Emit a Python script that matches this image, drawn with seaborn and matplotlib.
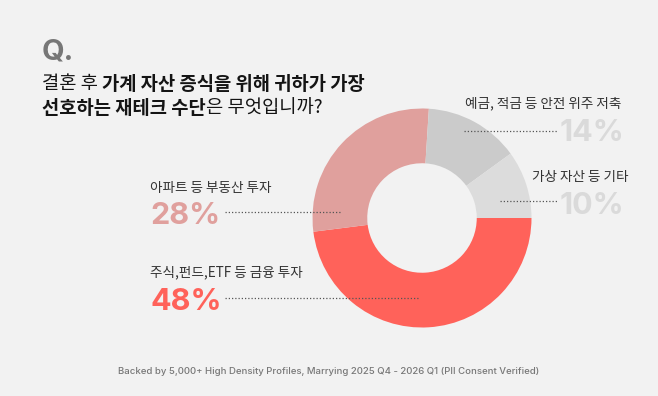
import matplotlib
matplotlib.use("Agg")
import matplotlib.pyplot as plt
import seaborn as sns

# survey shares, drawn clockwise from 3 o'clock
categories = ["주식,펀드,ETF 등 금융 투자", "아파트 등 부동산 투자", "예금, 적금 등 안전 위주 저축", "가상 자산 등 기타"]
shares = [48, 28, 14, 10]
slice_colors = ["#FF625A", "#E0A09D", "#CBCBCB", "#DCDCDC"]
pct_colors = ["#FF625A", "#E0A09D", "#DADADA", "#DADADA"]

title_parts_1 = [("결혼 후 ", "normal"), ("가계 자산 증식을 위해 귀하가 가장", "bold")]
title_parts_2 = [("선호하는 재테크 수단", "bold"), ("은 무엇입니까?", "normal")]
footer = "Backed by 5,000+ High Density Profiles, Marrying 2025 Q4 - 2026 Q1 (PII Consent Verified)"

W, H = 658, 396
BG = "#F2F2F2"
KR = ["Noto Sans CJK KR", "DejaVu Sans"]
NUM = ["Inter", "Noto Sans CJK KR", "DejaVu Sans"]

sns.set_theme(style="white")
plt.rcParams["font.family"] = KR

fig = plt.figure(figsize=(W / 100, H / 100), dpi=100)
fig.patch.set_facecolor(BG)

# donut: centre (422, 218), outer radius 109 px
cx, cy, r = 422, 218, 109.5
pie_ax = fig.add_axes([(cx - r) / W, (H - cy - r) / H, 2 * r / W, 2 * r / H])
pie_ax.pie(shares, colors=slice_colors, startangle=0, counterclock=False,
           radius=1, wedgeprops=dict(width=0.5, edgecolor="none"))
pie_ax.set_xlim(-1, 1)
pie_ax.set_ylim(-1, 1)
pie_ax.axis("off")

# overlay in pixel coordinates for text and leader lines
ax = fig.add_axes([0, 0, 1, 1])
ax.set_xlim(0, W)
ax.set_ylim(H, 0)
ax.axis("off")
ax.patch.set_alpha(0)

ax.text(42, 59.5, "Q.", fontsize=21, fontweight="bold", color="#777777",
        family=NUM, va="baseline")

fig.canvas.draw()
renderer = fig.canvas.get_renderer()


def draw_parts(parts, x, y):
    for txt, wt in parts:
        t = ax.text(x, y, txt, fontsize=13.5, fontweight=wt, color="#141414",
                    va="center", ha="left")
        bb = t.get_window_extent(renderer=renderer)
        x += bb.width


draw_parts(title_parts_1, 42, 84)
draw_parts(title_parts_2, 42, 108)

# label layout: (label x, label y, pct x, pct baseline, ha, line x0, line x1, line y)
layout = [
    (150, 272.5, 150, 310, "left", 225, 420, 298),
    (150, 188, 150, 224.5, "left", 225, 340, 212),
    (465, 103, 624, 141, "right", 464, 557, 131),
    (532, 176.5, 624, 213.5, "right", 500, 557, 201),
]

for cat, val, pc, (lx, ly, px, py, ha, x0, x1, yl) in zip(categories, shares, pct_colors, layout):
    ax.text(lx, ly, cat, fontsize=9.8, color="#333333", va="center", ha="left")
    ax.text(px, py, f"{val}%", fontsize=22, fontweight="bold", color=pc,
            family=NUM, va="baseline", ha=ha)
    ax.plot([x0, x1], [yl, yl], color="#555555", lw=0.9, ls=(0, (1, 1.6)))

ax.text(329, 371, footer, fontsize=6.9, color="#777777", family=NUM,
        fontweight="medium", va="center", ha="center")

fig.savefig("out.png", dpi=100, facecolor=BG)
